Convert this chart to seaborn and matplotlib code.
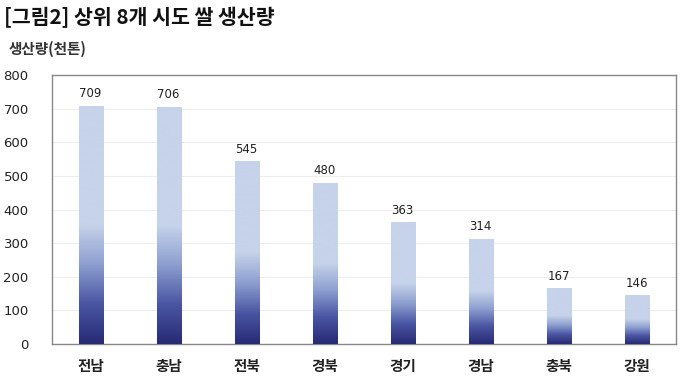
import numpy as np
import pandas as pd
import matplotlib
matplotlib.use('Agg')
import matplotlib.pyplot as plt
import seaborn as sns
from matplotlib.colors import LinearSegmentedColormap

#---------------------------------------------------
regions=['전남', '충남', '전북', '경북', '경기', '경남', '충북', '강원']
output=[709, 706, 545, 480, 363, 314, 167, 146]
yticks=[0, 100, 200, 300, 400, 500, 600, 700, 800]

c_light='#c6d3ea'
c_dark='#272a75'

#---------------------------------------------------
sns.set_style('white')
plt.rcParams['font.family']=['Noto Sans CJK KR', 'DejaVu Sans']

df=pd.DataFrame({'region': regions, 'value': output})

fig=plt.figure(figsize=(6.8, 3.76), dpi=100)
ax=fig.add_axes([0.077, 0.085, 0.917, 0.715])
sns.barplot(data=df, x='region', y='value', color=c_light, width=0.31, ax=ax, saturation=1)

#gradient: top half light, bottom half fades to navy
cmap=LinearSegmentedColormap.from_list('g', [c_dark, '#4a56a3', '#8d9fd0', c_light, c_light])
grad=np.linspace(0, 1, 256).reshape(-1, 1)
grad=np.clip(grad*2, 0, 1)*0.75
for p in ax.patches:
	x0, w, h=p.get_x(), p.get_width(), p.get_height()
	im=ax.imshow(grad, extent=[x0, x0+w, 0, h], origin='lower', aspect='auto', cmap=cmap, vmin=0, vmax=1, zorder=3)
	im.set_clip_path(p)
	p.set_facecolor('none')
	p.set_edgecolor('none')
	ax.text(x0+w/2, h+16, f'{int(h)}', ha='center', va='bottom', fontsize=8.5, family='DejaVu Sans', color='#222222', zorder=4)

ax.set_xlim(-0.49, 7.5)
ax.set_ylim(0, 800)
ax.set_yticks(yticks)
ax.yaxis.grid(True, color='#eeeeee', lw=0.8)
ax.set_axisbelow(True)
for s in ax.spines.values():
	s.set_color('#888888')
	s.set_linewidth(1)
ax.tick_params(axis='y', length=0, pad=17, labelsize=9.5, colors='#222222')
ax.tick_params(axis='x', length=0, pad=10, labelsize=10.5, colors='#222222')
for t in ax.get_yticklabels():
	t.set_family('DejaVu Sans')
for t in ax.get_xticklabels():
	t.set_fontweight('bold')
ax.set_xlabel('')
ax.set_ylabel('')

fig.text(0.013, 0.87, '생산량(천톤)', fontsize=10.5, fontweight='bold', color='#333333', va='center')
fig.text(0.006, 0.953, '[그림2] 상위 8개 시도 쌀 생산량', fontsize=14.8, fontweight='bold', color='#111111', va='center')

plt.savefig('out.png', dpi=100)
plt.close()
